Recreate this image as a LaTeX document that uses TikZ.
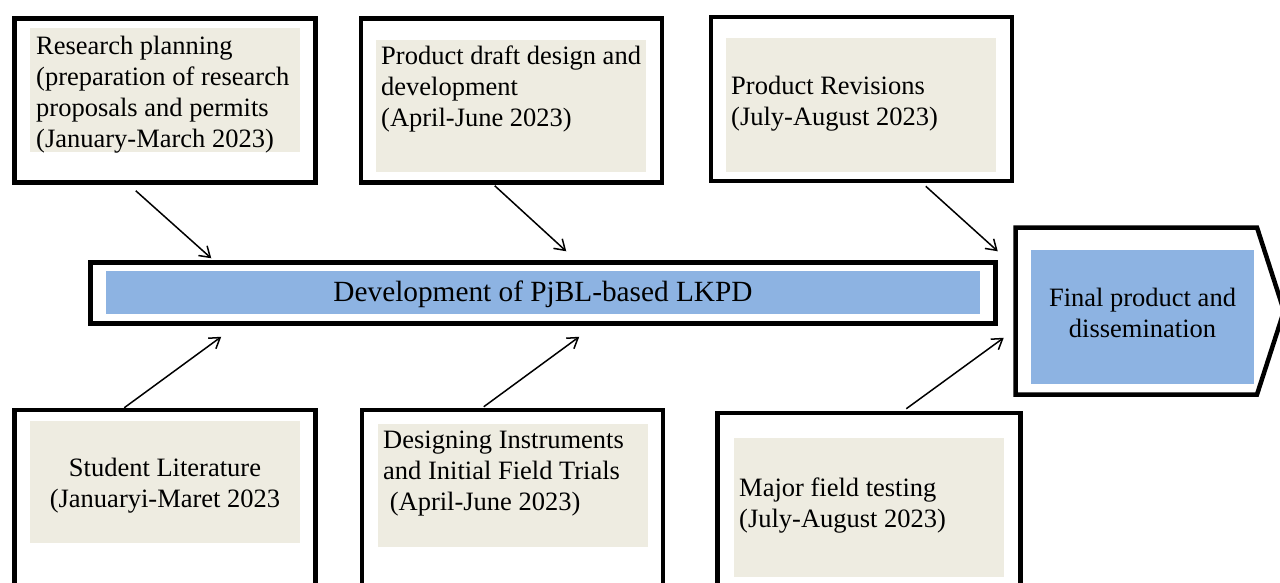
\documentclass[tikz,border=0pt]{standalone}
\usepackage{fontspec}
\setmainfont{Liberation Serif}
\usetikzlibrary{arrows.meta,calc}

\definecolor{panelgray}{HTML}{EEECE1}
\definecolor{panelblue}{HTML}{8DB3E2}

\tikzset{
  frame/.style={draw, line width=4.5pt, minimum width=301pt, minimum height=164pt, inner sep=0pt},
  panel/.style={fill=panelgray, minimum width=270pt, inner sep=0pt},
  note/.style={anchor=north west, inner sep=0pt, align=left, font=\fontsize{26.5}{31}\selectfont},
  link/.style={line width=1.5pt, -{Straight Barb[length=10pt,width=13pt,line width=1.5pt]}},
}

\begin{document}
\begin{tikzpicture}[x=1pt,y=-1pt]
    \useasboundingbox (0,0) rectangle (1280,582);

    % Top row: outer frames, shaded panels and their texts
    \node[frame] (plan) at (165,100.5) {};
    \node[frame] (draft) at (511.5,100.5) {};
    \node[frame] (revise) at (861.5,99) {};
    \node[panel, minimum height=124pt] (planbox) at (165,90) {};
    \node[panel, minimum height=132pt] (draftbox) at (511,106) {};
    \node[panel, minimum height=134pt] (revisebox) at (861,105) {};
    \node[note] (plantext) at (36,36) {Research planning\\(preparation of research\\proposals and permits\\(January-March 2023)};
    \node[note] (drafttext) at (381,46) {Product draft design and\\development\\(April-June 2023)};
    \node[note] (revisetext) at (731,76) {Product Revisions\\(July-August 2023)};

    % Middle bar
    \node[draw, line width=4.5pt, minimum width=905pt, minimum height=61pt] (devbar) at (543,293) {};
    \node[fill=panelblue, minimum width=874pt, minimum height=43pt] (devbox) at (543,292.5) {};
    \node[font=\fontsize{29.3}{31}\selectfont, inner sep=0pt] (devtext) at (543,294) {Development of PjBL-based LKPD};

    % End of the chain: arrow-shaped frame
    \draw[line width=4.5pt, line join=miter] (1015.5,227.5) -- (1257,227.5) -- (1284,311) -- (1257,394.5) -- (1015.5,394.5) -- cycle;
    \node[fill=panelblue, minimum width=223pt, minimum height=134pt, inner sep=0pt] (final) at (1142.5,317) {};
    \node[align=center, inner sep=0pt, font=\fontsize{26.5}{31}\selectfont] (finaltext) at (1142.5,313) {Final product and\\dissemination};

    % Bottom row (frames run past the lower edge)
    \node[frame, minimum height=200pt] (lit) at (165,510) {};
    \node[frame, minimum height=200pt] (trial) at (512.5,510) {};
    \node[frame, minimum height=200pt, minimum width=303pt] (major) at (869,513) {};
    \node[panel, minimum height=122pt] (litbox) at (165,482) {};
    \node[panel, minimum height=123pt] (trialbox) at (513,485.5) {};
    \node[panel, minimum height=139pt] (majorbox) at (869,507.5) {};
    \node[align=center, inner sep=0pt, font=\fontsize{26.5}{31}\selectfont] (littext) at (165,486) {Student Literature\\(Januaryi-Maret 2023};
    \node[note] (trialtext) at (383,431) {Designing Instruments\\and Initial Field Trials\\\hspace*{0.25em}(April-June 2023)};
    \node[note] (majortext) at (739,478) {Major field testing\\(July-August 2023)};

    % Arrows into the bar
    \draw[link] ($(plan.south west)+(123.5,6)$) -- ($(devbar.north west)+(123,-2)$);
    \draw[link] ($(draft.south west)+(136,1)$) -- ($(devbar.north west)+(478,-9)$);
    \draw[link] ($(revise.south west)+(217,3)$) -- ($(devbar.north east)+(0,-9)$);
    \draw[link] ($(lit.north west)+(112,0)$) -- ($(devbar.south west)+(133,11)$);
    \draw[link] ($(trial.north west)+(124,-1)$) -- ($(devbar.south west)+(491,11)$);
    \draw[link] ($(major.north west)+(191,-2)$) -- ($(devbar.south east)+(6,12)$);
\end{tikzpicture}
\end{document}
